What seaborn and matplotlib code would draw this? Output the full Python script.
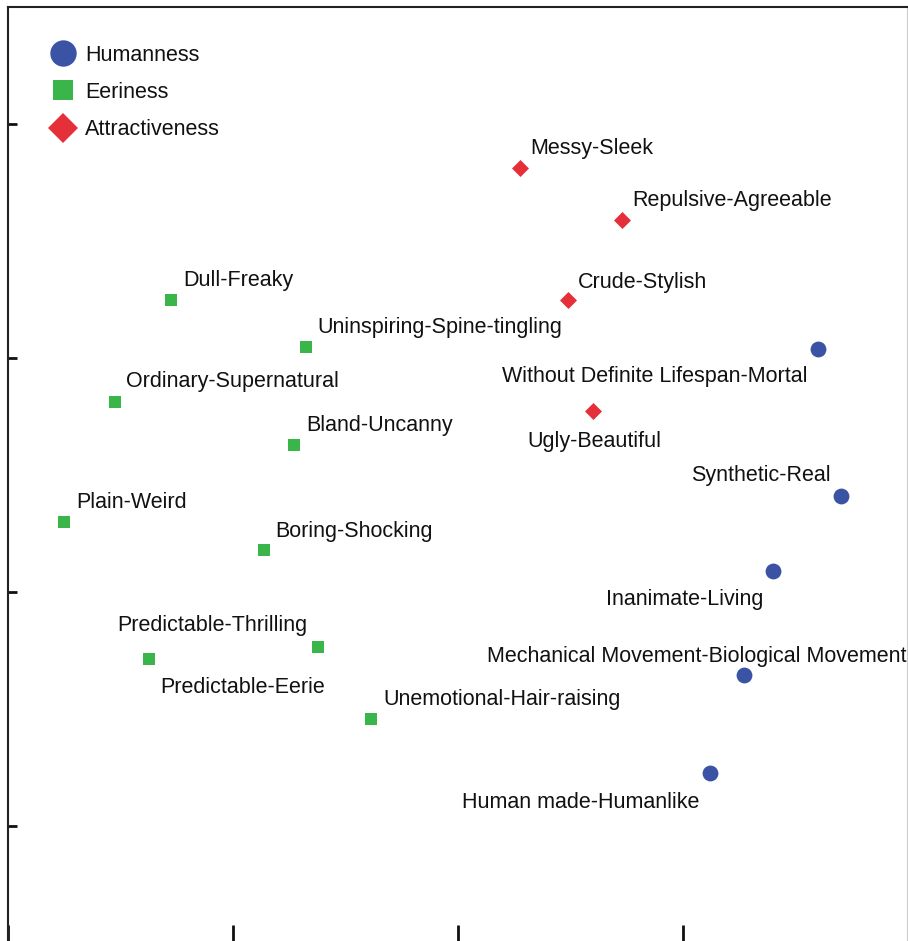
import matplotlib
matplotlib.use("Agg")
import matplotlib.pyplot as plt
from matplotlib.lines import Line2D
import seaborn as sns
import pandas as pd

# Dimension scores for each adjective pair, grouped by index
humanness_pairs = ["Without Definite Lifespan-Mortal", "Synthetic-Real", "Inanimate-Living",
                   "Mechanical Movement-Biological Movement", "Human made-Humanlike"]
humanness_x = [3.60, 3.70, 3.40, 3.27, 3.12]
humanness_y = [2.04, 1.41, 1.09, 0.645, 0.226]

eeriness_pairs = ["Dull-Freaky", "Uninspiring-Spine-tingling", "Ordinary-Supernatural",
                  "Bland-Uncanny", "Plain-Weird", "Boring-Shocking", "Predictable-Thrilling",
                  "Predictable-Eerie", "Unemotional-Hair-raising"]
eeriness_x = [0.724, 1.324, 0.476, 1.271, 0.249, 1.138, 1.378, 0.627, 1.613]
eeriness_y = [2.248, 2.047, 1.812, 1.628, 1.299, 1.179, 0.765, 0.714, 0.457]

attract_pairs = ["Messy-Sleek", "Repulsive-Agreeable", "Crude-Stylish", "Ugly-Beautiful"]
attract_x = [2.276, 2.729, 2.489, 2.600]
attract_y = [2.812, 2.590, 2.248, 1.774]

groups = ["Humanness", "Eeriness", "Attractiveness"]

df = pd.DataFrame({
    "pair": humanness_pairs + eeriness_pairs + attract_pairs,
    "x": humanness_x + eeriness_x + attract_x,
    "y": humanness_y + eeriness_y + attract_y,
    "index": [groups[0]] * len(humanness_pairs) + [groups[1]] * len(eeriness_pairs)
             + [groups[2]] * len(attract_pairs),
})

# Label placement: offset in pixels from the point and horizontal alignment
label_layout = {
    "Without Definite Lifespan-Mortal": (-10, -28, "right"),
    "Synthetic-Real": (-10, 21, "right"),
    "Inanimate-Living": (-10, -29, "right"),
    "Mechanical Movement-Biological Movement": (-47, 19, "center"),
    "Human made-Humanlike": (-11, -29, "right"),
    "Dull-Freaky": (12, 19, "left"),
    "Uninspiring-Spine-tingling": (11, 20, "left"),
    "Ordinary-Supernatural": (11, 20, "left"),
    "Bland-Uncanny": (12, 20, "left"),
    "Plain-Weird": (12, 20, "left"),
    "Boring-Shocking": (11, 19, "left"),
    "Predictable-Thrilling": (-11, 21, "right"),
    "Predictable-Eerie": (11, -29, "left"),
    "Unemotional-Hair-raising": (12, 20, "left"),
    "Messy-Sleek": (10, 19, "left"),
    "Repulsive-Agreeable": (10, 19, "left"),
    "Crude-Stylish": (10, 17, "left"),
    "Ugly-Beautiful": (1, -31, "center"),
}

palette = {"Humanness": "#3B53A4", "Eeriness": "#39B54A", "Attractiveness": "#E5303A"}
markers = {"Humanness": "o", "Eeriness": "s", "Attractiveness": "D"}
sizes = {"Humanness": 130, "Eeriness": 85, "Attractiveness": 75}

sns.set_style("white")
plt.rcParams["font.family"] = ["Liberation Sans", "DejaVu Sans"]

fig = plt.figure(figsize=(9.08, 9.41), dpi=100)
ax = fig.add_axes([8 / 908, -2 / 941, 900 / 908, 936 / 941])

for g in groups:
    sub = df[df["index"] == g]
    sns.scatterplot(data=sub, x="x", y="y", color=palette[g], marker=markers[g],
                    s=sizes[g], linewidth=0, ax=ax, legend=False, zorder=3)

for _, row in df.iterrows():
    dx, dy, ha = label_layout[row["pair"]]
    ax.annotate(row["pair"], (row["x"], row["y"]), xytext=(dx, dy),
                textcoords="offset pixels", ha=ha, va="center",
                fontsize=15.5, color="#111111")

ax.set_xlim(0, 4)
ax.set_ylim(-0.5, 3.5)
ax.set_xticks([0, 1, 2, 3, 4])
ax.set_yticks([0, 1, 2, 3])
ax.set_xticklabels([])
ax.set_yticklabels([])
ax.set_xlabel("")
ax.set_ylabel("")
ax.tick_params(axis="x", direction="in", length=13, width=2, colors="#111111", bottom=True)
ax.tick_params(axis="y", direction="in", length=6.5, width=2, colors="#111111", left=True)
for side in ["left", "top", "right", "bottom"]:
    ax.spines[side].set_visible(True)
    ax.spines[side].set_color("#222222")
    ax.spines[side].set_linewidth(1.5)
ax.spines["right"].set_color("#cccccc")

handles = [
    Line2D([], [], marker="o", linestyle="", markersize=19, markerfacecolor=palette["Humanness"],
           markeredgewidth=0, label="Humanness"),
    Line2D([], [], marker="s", linestyle="", markersize=14, markerfacecolor=palette["Eeriness"],
           markeredgewidth=0, label="Eeriness"),
    Line2D([], [], marker="D", linestyle="", markersize=15, markerfacecolor=palette["Attractiveness"],
           markeredgewidth=0, label="Attractiveness"),
]
ax.legend(handles=handles, loc="upper left", bbox_to_anchor=(0.0343, 0.969), frameon=False,
          fontsize=15.5, handlelength=1.44, handletextpad=0.3, labelspacing=0.76,
          borderaxespad=0, labelcolor="#111111")

fig.savefig("out.png", dpi=100)
